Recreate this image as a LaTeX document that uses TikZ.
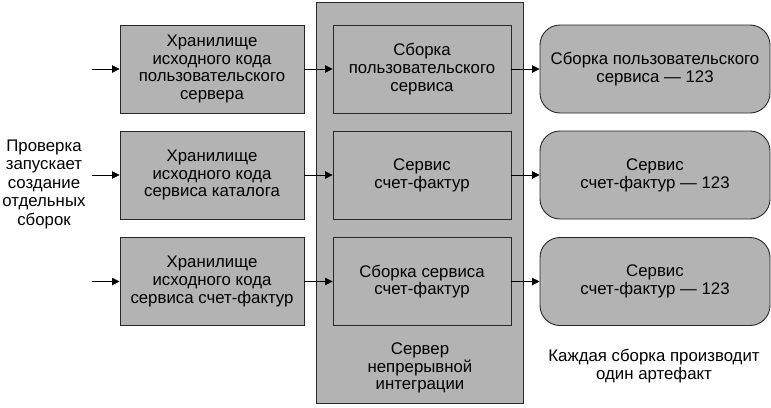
\documentclass[tikz,border=0pt]{standalone}
\usepackage{fontspec}
\setmainfont{Liberation Sans}
\usetikzlibrary{arrows.meta}
\definecolor{boxgray}{RGB}{179,179,179}
\definecolor{edgegray}{RGB}{40,40,40}
\begin{document}
\begin{tikzpicture}[x=1pt,y=-1pt,
  every node/.style={font=\fontsize{16.8}{17.8}\selectfont, align=center, inner sep=0pt},
  srcbox/.style={draw=edgegray, line width=0.9pt, fill=boxgray, minimum width=184pt, minimum height=88pt},
  buildbox/.style={draw=edgegray, line width=0.9pt, fill=boxgray, minimum width=178pt, minimum height=88pt},
  artbox/.style={draw=edgegray, line width=0.9pt, fill=boxgray, rounded corners=20pt, minimum width=230pt, minimum height=88pt},
  cibox/.style={draw=edgegray, line width=0.9pt, fill=boxgray, minimum width=207pt, minimum height=401pt},
  conn/.style={draw=black, line width=0.8pt, -{Triangle[length=7.5pt,width=7.5pt]}},
  plain/.style={draw=none, fill=none}
]
\useasboundingbox (0,0) rectangle (771,407);
\node[cibox] (ci) at (419.5,202.5) {};
\node[plain] (cilabel) at (420,368) {Сервер\\непрерывной\\интеграции};

\node[srcbox] (s1) at (212,69) {Хранилище\\исходного кода\\пользовательского\\сервера};
\node[srcbox] (s2) at (212,175) {Хранилище\\исходного кода\\сервиса каталога};
\node[srcbox] (s3) at (212,281.5) {Хранилище\\исходного кода\\сервиса счет-фактур};

\node[buildbox] (b1) at (422,69) {Сборка\\пользовательского\\сервиса};
\node[buildbox] (b2) at (422,175) {Сервис\\счет-фактур};
\node[buildbox] (b3) at (422,281.5) {Сборка сервиса\\счет-фактур};

\node[artbox] (a1) at (655,69) {Сборка пользовательского\\сервиса — 123};
\node[artbox] (a2) at (655,175) {Сервис\\счет-фактур — 123};
\node[artbox] (a3) at (655,281.5) {Сервис\\счет-фактур — 123};

\node[plain, font=\fontsize{16.8}{18.5}\selectfont] (trig) at (44,184) {Проверка\\запускает\\создание\\отдельных\\сборок};
\node[plain] (note) at (654,366) {Каждая сборка производит\\один артефакт};

\coordinate (i1) at (92,69);
\coordinate (i2) at (92,175);
\coordinate (i3) at (92,281.5);

\draw[conn] (i1) -- (s1);
\draw[conn] (i2) -- (s2);
\draw[conn] (i3) -- (s3);
\draw[conn] (s1) -- (b1);
\draw[conn] (s2) -- (b2);
\draw[conn] (s3) -- (b3);
\draw[conn] (b1) -- (a1);
\draw[conn] (b2) -- (a2);
\draw[conn] (b3) -- (a3);
\end{tikzpicture}
\end{document}
